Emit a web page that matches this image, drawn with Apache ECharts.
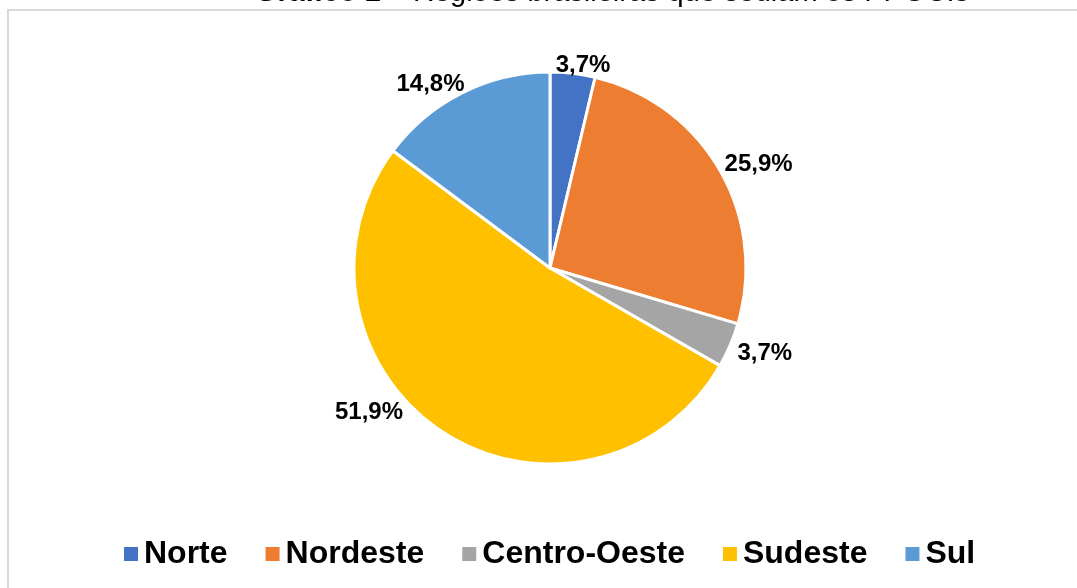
<!DOCTYPE html>
<html lang="pt">

<head>
    <meta charset="UTF-8">
    <title>Gráfico 1</title>
    <script src="https://cdn.jsdelivr.net/npm/echarts@6/dist/echarts.min.js"></script>
    <style>
        html,
        body {
            margin: 0;
            padding: 0;
            background: #ffffff;
        }
        
        .chart {
            width: 1077px;
            height: 588px;
        }
    </style>
</head>

<body>
    <div class="chart"></div>

    <script>
        // dados
        var regioes = ['Norte', 'Nordeste', 'Centro-Oeste', 'Sudeste', 'Sul'];
        var percentuais = [3.7, 25.9, 3.7, 51.9, 14.8];
        var cores = ['#4472C4', '#ED7D31', '#A5A5A5', '#FFC000', '#5B9BD5'];

        var myChart = echarts.init(document.querySelector('.chart'));

        var fonte = '"Liberation Sans", Arial, sans-serif';

        // ajuste fino dos rótulos (estilo "melhor ajuste" do Excel)
        var ajusteRotulo = [
            [-23, 0],
            [-7, -1],
            [-5, 5],
            [-30, -26],
            [11, -1]
        ];

        var option = {
            animation: false,
            color: cores,
            title: {
                text: '{b|Gráfico 1} – Regiões brasileiras que sediam os PPGCIs',
                left: 607,
                textAlign: 'center',
                top: -27,
                textStyle: {
                    fontFamily: fonte,
                    fontSize: 29,
                    fontWeight: 'normal',
                    color: '#000',
                    rich: {
                        b: {
                            fontFamily: fonte,
                            fontSize: 29,
                            fontWeight: 'bold',
                            color: '#000'
                        }
                    }
                }
            },
            graphic: [{
                type: 'rect',
                shape: {
                    x: 8,
                    y: 10,
                    width: 1090,
                    height: 600
                },
                style: {
                    fill: 'none',
                    stroke: '#d9d9d9',
                    lineWidth: 2
                },
                silent: true
            }],
            legend: {
                data: regioes,
                left: 117,
                top: 533,
                itemWidth: 16,
                itemHeight: 16,
                itemGap: 36,
                icon: 'rect',
                textStyle: {
                    fontFamily: fonte,
                    fontSize: 32,
                    fontWeight: 'bold',
                    color: '#000'
                }
            },
            series: [{
                name: 'Regiões',
                type: 'pie',
                center: [550, 268],
                radius: 196,
                startAngle: 90,
                clockwise: true,
                data: regioes.map(function(r, i) {
                    return {
                        name: r,
                        value: percentuais[i]
                    };
                }),
                itemStyle: {
                    borderColor: '#ffffff',
                    borderWidth: 3
                },
                label: {
                    show: true,
                    position: 'outside',
                    formatter: function(p) {
                        return p.value.toFixed(1).replace('.', ',') + '%';
                    },
                    fontFamily: fonte,
                    fontSize: 24,
                    fontWeight: 'bold',
                    color: '#000'
                },
                labelLine: {
                    show: false,
                    length: 8,
                    length2: 0
                },
                labelLayout: function(p) {
                    return {
                        dx: ajusteRotulo[p.dataIndex][0],
                        dy: ajusteRotulo[p.dataIndex][1]
                    };
                }
            }]
        };
        myChart.setOption(option);
    </script>
</body>

</html>
